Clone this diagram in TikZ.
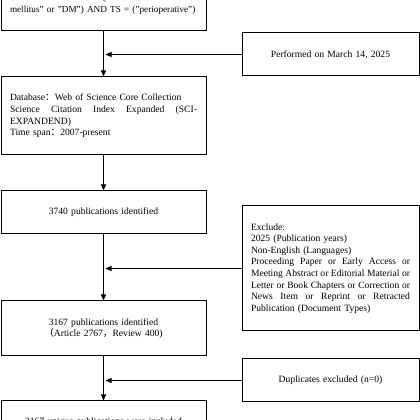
\documentclass[tikz,border=0pt]{standalone}
\usepackage{fontspec}
\setmainfont{Liberation Serif}
\newfontfamily\cjk{Noto Sans CJK SC}
\usetikzlibrary{arrows.meta,calc}
\newcommand{\jl}[2]{{\spaceskip=0pt\xspaceskip=0pt\makebox[#1][s]{#2}}}
\begin{document}
\begin{tikzpicture}[x=1pt,y=1pt,
  box/.style={draw=black, line width=1pt, rectangle, inner sep=0pt,
    font=\fontsize{9.6}{11.6}\selectfont, text=black},
  lbox/.style={box, minimum width=205pt, text width=187pt},
  rbox/.style={box, minimum width=177pt, text width=159pt},
  arr/.style={draw=black, line width=1pt, -{Triangle[length=6pt,width=5pt]}}]
\useasboundingbox (0,0) rectangle (420,420);
\clip (0,0) rectangle (420,420);
\fill[white] (0,0) rectangle (420,420);

\node[lbox, minimum height=54pt, align=left] (b1) at (103.5,416)
  {\jl{187pt}{Search Method: TS = ("diabetes" or "diabetes}\\\mbox{\fontsize{9.2}{11.6}\selectfont mellitus" or "DM") AND TS = ("perioperative")}};
\node[lbox, minimum height=78pt, align=left] (b2) at (103.5,304)
  {Database{\cjk ：}Web of Science Core Collection\\
   \jl{187pt}{Science Citation Index Expanded (SCI-}\\
   EXPANDEND)\\
   Time span{\cjk ：}2007-present};
\node[lbox, minimum height=43pt, align=center] (b3) at (103.5,207.5)
  {3740 publications identified};
\node[lbox, minimum height=55pt, align=center] (b4) at (103.5,91.5)
  {3167 publications identified\\{\cjk （}Article 2767{\cjk ，}Review 400)};
\node[lbox, minimum height=42pt, align=center] (b5) at (103.5,-2)
  {3167 unique publications were included};

\node[rbox, minimum height=43pt, align=center] (r1) at (330.5,365.5)
  {Performed on March 14, 2025};
\node[rbox, minimum height=125pt, align=left] (r2) at (330.5,151.5)
  {Exclude:\\
   2025 (Publication years)\\
   Non-English (Languages)\\
   \jl{159pt}{Proceeding Paper or Early Access or}\\
   \jl{159pt}{Meeting Abstract or Editorial Material or}\\
   \jl{159pt}{Letter or Book Chapters or Correction or}\\
   \jl{159pt}{News Item or Reprint or Retracted}\\
   Publication (Document Types)};
\node[rbox, minimum height=43pt, align=center] (r3) at (330.5,39.5)
  {Duplicates excluded (n=0)};

\draw[arr] (b1.south) -- (b2.north);
\draw[arr] (b2.south) -- (b3.north);
\draw[arr] (b3.south) -- (b4.north);
\draw[arr] (b4.south) -- (b5.north);
\draw[arr] (r1.west) -- ($(r1.west -| b1.south)+(2,0)$);
\draw[arr] (r2.west) -- ($(r2.west -| b1.south)+(2,0)$);
\draw[arr] (r3.west) -- ($(r3.west -| b1.south)+(2,0)$);
\end{tikzpicture}
\end{document}
